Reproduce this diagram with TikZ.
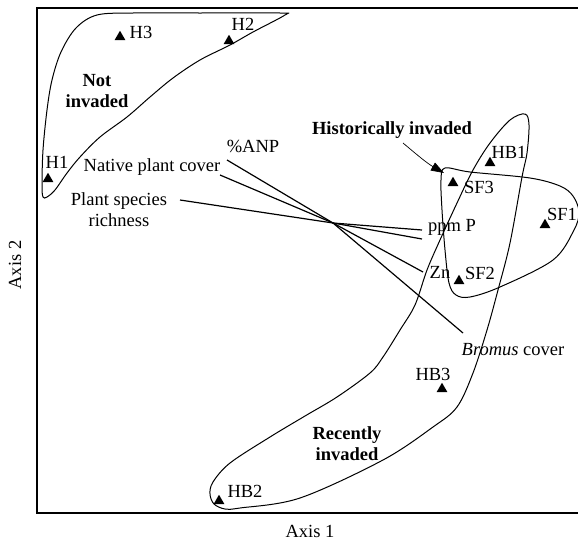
\documentclass[tikz,border=0pt]{standalone}
\usepackage{fontspec}
\setmainfont{Liberation Serif}
\usetikzlibrary{shapes.geometric,arrows.meta}
\begin{document}
\begin{tikzpicture}[x=1pt,y=-1pt,
  txt/.style={font=\fontsize{18.5}{21}\selectfont, inner sep=0pt},
  grp/.style={font=\bfseries\fontsize{18.5}{21}\selectfont, align=center, inner sep=0pt},
  site/.style={regular polygon, regular polygon sides=3, fill=black, draw=none, minimum size=12.5pt, inner sep=0pt},
  hull/.style={line width=1pt, line join=round},
  vec/.style={line width=1.2pt},
  frame/.style={line width=2.2pt}]
\useasboundingbox (0,0) rectangle (578,541);
\clip (0,0) rectangle (578,541);
% frame
\draw[frame] (37,8) rectangle (600,513);
\node[txt] (ax1) at (310,531) {Axis 1};
\node[txt, rotate=90] (ax2) at (15,265) {Axis 2};
% hulls
\draw[hull] plot[smooth cycle, tension=0.55] coordinates {
 (43,197) (42,185) (43,150) (47,110) (52,80) (61,52) (76,28) (97,15) (133,13) (200,13) (280,13) (285,15)
 (253,32) (230,45) (200,60) (173,78) (150,97) (127,117) (100,137) (80,157) (67,173) (55,190) (47,197)};
\draw[hull] plot[smooth cycle, tension=0.55] coordinates {
 (445,168) (470,172) (530,178) (560,186) (573,196) (579,212) (574,230) (553,260) (500,287) (470,297)
 (456,295) (449,283) (445,250) (442,210) (441,180)};
\draw[hull] plot[smooth cycle, tension=0.55] coordinates {
 (525,114) (529,125) (527,153) (522,177) (510,243) (498,290) (487,330) (473,373) (457,407) (433,427)
 (383,460) (300,498) (240,508) (225,509) (214,504) (210,494) (213,482) (230,463) (270,437) (305,416)
 (337,397) (370,373) (383,357) (400,330) (415,305) (427,270) (440,240) (457,203) (473,170) (490,143) (510,120)};
% vectors
\coordinate (O) at (333,223);
\coordinate (eANP) at (227,160);
\coordinate (eNat) at (220,175);
\coordinate (eRich) at (180,200);
\coordinate (eP1) at (422,230);
\coordinate (eP2) at (422,239);
\coordinate (eZn) at (423,272);
\coordinate (eBro) at (463,333);
\draw[vec] (O) -- (eANP);
\draw[vec] (O) -- (eNat);
\draw[vec] (O) -- (eRich);
\draw[vec] (O) -- (eP1);
\draw[vec] (O) -- (eP2);
\draw[vec] (O) -- (eZn);
\draw[vec] (O) -- (eBro);
\node[txt] (lANP) at (253,146) {\%ANP};
\node[txt] (lNat) at (152,167) {Native plant cover};
\node[txt, align=center] (lRich) at (119,210) {Plant species\\richness};
\node[txt] (lP) at (452,227) {ppm P};
\node[txt] (lZn) at (440,272) {Zn};
\node[txt] (lBro) at (513,350) {\textit{Bromus} cover};
% groups
\node[grp] (gNI) at (97,91) {Not\\invaded};
\node[grp] (gRI) at (347,444) {Recently\\invaded};
\node[grp] (gHI) at (392,130) {Historically invaded};
\coordinate (aS) at (403,143);
\coordinate (aE) at (444,173);
\draw[line width=0.7pt, -{Triangle[length=13pt,width=9pt]}] (aS) to[out=-40,in=150] (aE);
% sites
\node[site] (H3) at (120,37) {};
\node[site] (H2) at (229,41) {};
\node[site] (H1) at (48,179) {};
\node[site] (HB1) at (490,163) {};
\node[site] (SF3) at (453,183) {};
\node[site] (SF1) at (545,225) {};
\node[site] (SF2) at (459,281) {};
\node[site] (HB3) at (442,389) {};
\node[site] (HB2) at (219,501) {};
\node[txt] (tH3) at (141,32) {H3};
\node[txt] (tH2) at (243,24) {H2};
\node[txt] (tH1) at (57,162) {H1};
\node[txt] (tHB1) at (509,152) {HB1};
\node[txt] (tSF3) at (479,187) {SF3};
\node[txt] (tSF1) at (562,214) {SF1};
\node[txt] (tSF2) at (480,273) {SF2};
\node[txt] (tHB3) at (433,374) {HB3};
\node[txt] (tHB2) at (245,491) {HB2};
\end{tikzpicture}
\end{document}
